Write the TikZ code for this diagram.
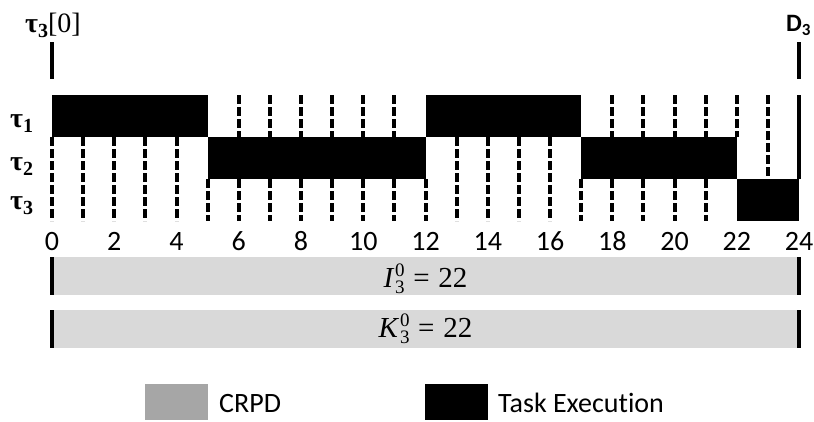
\documentclass[tikz,border=0pt]{standalone}
\usepackage{fontspec}
\setmainfont{Carlito}[Ligatures=CommonOff]
\newfontfamily\serifgr{Liberation Serif}
\newcommand\taulab[1]{{\bfseries τ}\raisebox{-5pt}{\fontsize{20}{20}\selectfont\bfseries #1}}
\newcommand\supsub[2]{\hspace{2pt}\makebox[0pt][l]{\raisebox{11pt}{\fontsize{19}{19}\selectfont #1}}\raisebox{-6pt}{\fontsize{19}{19}\selectfont #2}}
\begin{document}
\begin{tikzpicture}[x=1pt,y=-1pt,
  exec/.style={fill=black},
  idle/.style={line width=4pt, dash pattern=on 9pt off 3pt},
  markline/.style={line width=4pt},
  crpdbar/.style={fill=black!15},
  ticklbl/.style={font=\fontsize{28}{30}\selectfont, inner sep=0pt, anchor=base},
  tasklbl/.style={font=\serifgr\fontsize{28}{30}\selectfont, inner sep=0pt, anchor=base west},
  legtxt/.style={font=\fontsize{28}{30}\selectfont, inner sep=0pt, anchor=base west},
  mathlbl/.style={font=\serifgr\fontsize{29}{31}\selectfont, inner sep=0pt, anchor=base}]
\useasboundingbox (0,0) rectangle (814,421);

% task labels
\node[tasklbl] (t1) at (10,127) {\taulab{1}};
\node[tasklbl] (t2) at (10,170) {\taulab{2}};
\node[tasklbl] (t3) at (10,209) {\taulab{3}};
\node[tasklbl] (rel) at (25,32) {\taulab{3}[0]};
\node[legtxt, font=\bfseries\fontsize{25}{27}\selectfont] (dl) at (786,31) {D\raisebox{-4pt}{\fontsize{17}{17}\selectfont 3}};

\begin{scope}[shift={(52,0)}, x=31.125pt]
  % release / deadline markers
  \draw[markline] (0,42) -- (0,79);
  \draw[markline] (24,42) -- (24,79);
  % execution blocks
  \fill[exec] (0,95) rectangle (5,137);
  \fill[exec] (12,95) rectangle (17,137);
  \fill[exec] (5,137) rectangle (12,179);
  \fill[exec] (17,137) rectangle (22,179);
  \fill[exec] (22,179) rectangle (24,221);
  % idle slots
  \foreach \t in {0,...,4} \draw[idle] (\t,137) -- (\t,221);
  \foreach \t in {5,12,17} \draw[idle] (\t,179) -- (\t,221);
  \foreach \t in {6,...,11,18,19,20,21} {
    \draw[idle] (\t,95) -- (\t,137);
    \draw[idle] (\t,179) -- (\t,221);
  }
  \foreach \t in {13,...,16} \draw[idle] (\t,137) -- (\t,221);
  \draw[idle] (22,95) -- (22,137);
  \draw[idle] (23,95) -- (23,179);
  \draw[markline] (24,95) -- (24,179);
  % axis labels
  \foreach \t in {0,2,...,24} \node[ticklbl] (n\t) at (\t,250) {\t};
  % CRPD bars
  \fill[crpdbar] (0,257) rectangle (24,295);
  \fill[crpdbar] (0,310) rectangle (24,348);
  \draw[markline] (0,257) -- (0,295);
  \draw[markline] (24,257) -- (24,295);
  \draw[markline] (0,310) -- (0,348);
  \draw[markline] (24,310) -- (24,348);
  \node[mathlbl] (ival) at (12,287) {{\itshape I}\supsub{0}{3}\hspace{0.3em}=\hspace{0.3em}22};
  \node[mathlbl] (kval) at (12,337) {{\itshape K}\supsub{0}{3}\hspace{0.3em}=\hspace{0.3em}22};
\end{scope}

% legend
\fill[black!35] (145,384) rectangle (208,420);
\node[legtxt] (lcrpd) at (219,412) {CRPD};
\fill[black] (425,384) rectangle (488,420);
\node[legtxt] (lexec) at (498,412) {Task Execution};
\end{tikzpicture}
\end{document}
